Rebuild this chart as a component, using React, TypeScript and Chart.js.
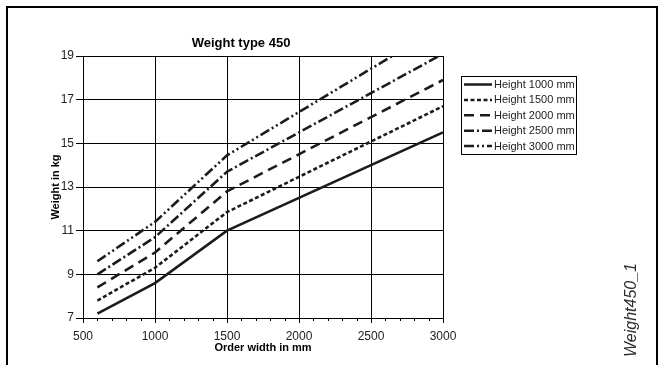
import React, { useEffect, useRef } from "react";
import { Chart, registerables } from "chart.js";

Chart.register(...registerables);

const FONT = '"Liberation Sans", Arial, Helvetica, sans-serif';

const chartTitle = "Weight type 450";
const xAxisTitle = "Order width in mm";
const yAxisTitle = "Weight in kg";
const sideLabel = "Weight450_1";

const widths = [600, 1000, 1500, 3000];
const h1000 = [7.2, 8.6, 11.0, 15.5];
const h1500 = [7.8, 9.3, 11.85, 16.7];
const h2000 = [8.4, 10.0, 12.8, 17.9];
const h2500 = [9.0, 10.7, 13.7, 19.1];
const h3000 = [9.6, 11.4, 14.45, 20.4];

const seriesLabels = [
  "Height 1000 mm",
  "Height 1500 mm",
  "Height 2000 mm",
  "Height 2500 mm",
  "Height 3000 mm",
];
const seriesValues = [h1000, h1500, h2000, h2500, h3000];
const seriesDash: number[][] = [
  [],
  [4, 2.5],
  [10, 6],
  [10, 3, 2, 3],
  [10, 3, 2, 3, 2, 3],
];

const xTicks = [500, 1000, 1500, 2000, 2500, 3000];
const xMinorStep = 100;
const yTicks = [7, 9, 11, 13, 15, 17, 19];

const LINE_COLOR = "#1c1c1c";

const decor = {
  id: "decor",
  afterDraw(chart: any) {
    const ctx: CanvasRenderingContext2D = chart.ctx;
    const ca = chart.chartArea;
    const xs = chart.scales.x;
    ctx.save();

    // outer frame
    ctx.strokeStyle = "#000";
    ctx.lineWidth = 2;
    ctx.strokeRect(7, 7, 650, 420);

    // minor ticks on x axis
    ctx.lineWidth = 1;
    ctx.strokeStyle = "#000";
    for (let v = xTicks[0] + xMinorStep; v < xTicks[xTicks.length - 1]; v += xMinorStep) {
      if (xTicks.includes(v)) continue;
      const px = Math.round(xs.getPixelForValue(v)) + 0.5;
      ctx.beginPath();
      ctx.moveTo(px, ca.bottom);
      ctx.lineTo(px, ca.bottom + 3);
      ctx.stroke();
    }

    // chart title
    ctx.fillStyle = "#000";
    ctx.textAlign = "center";
    ctx.textBaseline = "middle";
    ctx.font = `bold 13px ${FONT}`;
    ctx.fillText(chartTitle, 241, 43);

    // axis titles
    ctx.font = `bold 11px ${FONT}`;
    ctx.fillText(xAxisTitle, (ca.left + ca.right) / 2, 348);
    ctx.save();
    ctx.translate(56, (ca.top + ca.bottom) / 2);
    ctx.rotate(-Math.PI / 2);
    ctx.fillText(yAxisTitle, 0, 0);
    ctx.restore();

    // side label
    ctx.save();
    ctx.fillStyle = "#2a2a2a";
    ctx.font = `italic 16px ${FONT}`;
    ctx.translate(632, 310);
    ctx.rotate(-Math.PI / 2);
    ctx.fillText(sideLabel, 0, 0);
    ctx.restore();

    // legend
    const bx = 461.5, by = 76.5, bw = 115, bh = 78;
    ctx.fillStyle = "#fff";
    ctx.fillRect(bx, by, bw, bh);
    ctx.strokeStyle = "#000";
    ctx.lineWidth = 1;
    ctx.strokeRect(bx, by, bw, bh);
    ctx.font = `11px ${FONT}`;
    ctx.textAlign = "left";
    ctx.textBaseline = "middle";
    chart.data.datasets.forEach((ds: any, i: number) => {
      const ry = 84.5 + i * 15.4;
      ctx.save();
      ctx.strokeStyle = LINE_COLOR;
      ctx.lineWidth = 2.5;
      ctx.setLineDash(ds.borderDash || []);
      ctx.beginPath();
      ctx.moveTo(464, ry);
      ctx.lineTo(492, ry);
      ctx.stroke();
      ctx.restore();
      ctx.fillStyle = "#222";
      ctx.fillText(ds.label, 494, ry + 0.5);
    });

    ctx.restore();
  },
};

export default function App() {
  const ref = useRef<HTMLCanvasElement | null>(null);

  useEffect(() => {
    if (!ref.current) return;
    const datasets = seriesLabels.map((label, i) => ({
      label,
      data: widths.map((w, j) => ({ x: w, y: seriesValues[i][j] })),
      borderColor: LINE_COLOR,
      backgroundColor: LINE_COLOR,
      borderWidth: 2.6,
      borderDash: seriesDash[i],
      pointRadius: 0,
      tension: 0,
      fill: false,
    }));
    const chart = new Chart(ref.current, {
      type: "line",
      data: { datasets },
      options: {
        animation: false,
        responsive: false,
        devicePixelRatio: 1,
        layout: { padding: { left: 0, top: 56, right: 221, bottom: 0 } },
        plugins: {
          legend: { display: false },
          title: { display: false },
          tooltip: { enabled: false },
        },
        scales: {
          x: {
            type: "linear",
            min: xTicks[0],
            max: xTicks[xTicks.length - 1],
            afterFit: (s: any) => {
              s.height = 47;
            },
            afterBuildTicks: (s: any) => {
              s.ticks = xTicks.map((v) => ({ value: v }));
            },
            ticks: {
              font: { family: FONT, size: 12 },
              color: "#222",
              padding: 6,
              maxRotation: 0,
              autoSkip: false,
              callback: (v: any) => String(v),
            },
            grid: { color: "#000", lineWidth: 1, tickLength: 5, tickColor: "#000" },
            border: { color: "#000", width: 1 },
          },
          y: {
            type: "linear",
            min: yTicks[0],
            max: yTicks[yTicks.length - 1],
            afterFit: (s: any) => {
              s.width = 83;
            },
            afterBuildTicks: (s: any) => {
              s.ticks = yTicks.map((v) => ({ value: v }));
            },
            ticks: {
              font: { family: FONT, size: 12 },
              color: "#222",
              padding: 2,
              autoSkip: false,
              callback: (v: any) => String(v),
            },
            grid: { color: "#000", lineWidth: 1, tickLength: 7, tickColor: "#000" },
            border: { color: "#000", width: 1 },
          },
        },
      },
      plugins: [decor],
    } as any);
    return () => chart.destroy();
  }, []);

  return (
    <div style={{ position: "absolute", left: 0, top: 0, width: 664, height: 365, background: "#fff" }}>
      <canvas ref={ref} width={664} height={365} style={{ width: 664, height: 365, display: "block" }} />
    </div>
  );
}
